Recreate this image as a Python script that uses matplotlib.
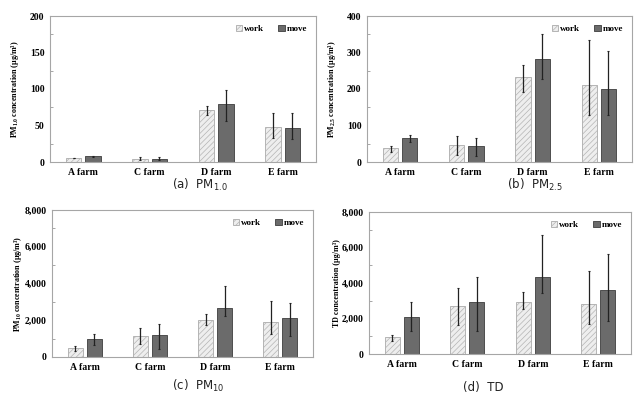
import numpy as np
import matplotlib
matplotlib.use("Agg")
import matplotlib.pyplot as plt
import matplotlib.ticker as ticker

plt.rcParams["hatch.linewidth"] = 0.5

FARMS = ["A farm", "C farm", "D farm", "E farm"]
SERIES = ["work", "move"]

# panel (a) PM1.0
pm1_work = [5.5, 4.6, 71.5, 47.8]
pm1_work_up = [0.5, 2, 5.5, 19]
pm1_work_dn = [0.5, 2, 7.5, 15]
pm1_move = [7.7, 4.6, 79, 47]
pm1_move_up = [1, 2.5, 19, 19.5]
pm1_move_dn = [1, 2.5, 22.5, 15]

# panel (b) PM2.5
pm25_work = [37, 45.5, 232, 210]
pm25_work_up = [7.5, 25.5, 34, 125]
pm25_work_dn = [9, 26.5, 39, 81]
pm25_move = [65.5, 42.7, 281, 200]
pm25_move_up = [8, 22, 71, 103]
pm25_move_dn = [11, 26, 53, 71]

# panel (c) PM10
pm10_work = [490, 1130, 2020, 1910]
pm10_work_up = [130, 430, 340, 1125]
pm10_work_dn = [145, 400, 275, 640]
pm10_move = [980, 1220, 2670, 2130]
pm10_move_up = [290, 580, 1200, 800]
pm10_move_dn = [310, 780, 450, 985]

# panel (d) TD
td_work = [953, 2729, 2916, 2823]
td_work_up = [131, 971, 560, 1831]
td_work_dn = [205, 1122, 374, 1123]
td_move = [2112, 2953, 4336, 3589]
td_move_up = [804, 1402, 2374, 2056]
td_move_dn = [822, 1663, 896, 1757]

SERIF = "Liberation Serif"
SANS = "DejaVu Sans"

fig = plt.figure(figsize=(6.43, 3.99), dpi=100)
W, H = 643, 399


def px_axes(left, right, top, bottom):
    return fig.add_axes([left / W, 1 - bottom / H, (right - left) / W, (bottom - top) / H])


def draw_panel(ax, work, wup, wdn, move, mup, mdn, ymax, ystep, ylabel, comma):
    x = np.arange(len(FARMS))
    bw = 0.23
    off = 0.145
    ax.bar(x - off, work, bw, color="#eeeeee", edgecolor="#b4b4b4", hatch="//////",
           linewidth=0.7, label="work", zorder=2)
    ax.bar(x + off, move, bw, color="#6b6b6b", edgecolor="#4d4d4d",
           linewidth=0.7, label="move", zorder=2)
    ax.errorbar(x - off, work, yerr=[wdn, wup], fmt="none", ecolor="#222222",
                elinewidth=0.9, capsize=1, capthick=0.8, zorder=3)
    ax.errorbar(x + off, move, yerr=[mdn, mup], fmt="none", ecolor="#222222",
                elinewidth=0.9, capsize=1, capthick=0.8, zorder=3)
    ax.set_xlim(-0.5, len(FARMS) - 0.5)
    ax.set_ylim(0, ymax)
    ax.set_xticks(x)
    ax.set_xticklabels(FARMS, fontfamily=SERIF, fontweight="bold", fontsize=7)
    ax.yaxis.set_major_locator(ticker.MultipleLocator(ystep))
    ax.yaxis.set_minor_locator(ticker.MultipleLocator(ystep / 2))
    if comma:
        ax.yaxis.set_major_formatter(ticker.FuncFormatter(lambda v, p: f"{int(v):,}"))
    for lab in ax.get_yticklabels():
        lab.set_fontfamily(SERIF)
        lab.set_fontweight("bold")
        lab.set_fontsize(7)
    ax.tick_params(axis="both", which="major", length=0, pad=4)
    ax.tick_params(axis="y", which="minor", direction="in", length=2.5, color="#999999")
    for s in ax.spines.values():
        s.set_color("#a6a6a6")
        s.set_linewidth(0.8)
    ax.set_ylabel(ylabel, fontfamily=SERIF, fontweight="bold", fontsize=5.8)
    ax.yaxis.set_label_coords(-0.108, 0.5)
    ax.legend(loc="upper right", ncol=2, frameon=False, handlelength=0.7, handleheight=0.7,
              handletextpad=0.2, columnspacing=1.6, borderaxespad=0.6,
              prop={"family": SERIF, "weight": "bold", "size": 6.5})


ax_a = px_axes(50, 316, 16, 162)
draw_panel(ax_a, pm1_work, pm1_work_up, pm1_work_dn, pm1_move, pm1_move_up, pm1_move_dn,
           200, 50, r"PM$\mathregular{_{1.0}}$ concentration (μg/m³)", False)

ax_b = px_axes(367, 632, 16, 162)
draw_panel(ax_b, pm25_work, pm25_work_up, pm25_work_dn, pm25_move, pm25_move_up, pm25_move_dn,
           400, 100, r"PM$\mathregular{_{2.5}}$ concentration (μg/m³)", False)

ax_c = px_axes(52, 313, 210, 357)
draw_panel(ax_c, pm10_work, pm10_work_up, pm10_work_dn, pm10_move, pm10_move_up, pm10_move_dn,
           8000, 2000, r"PM$\mathregular{_{10}}$ concentration (μg/m³)", True)

ax_d = px_axes(369, 631, 212, 354)
draw_panel(ax_d, td_work, td_work_up, td_work_dn, td_move, td_move_up, td_move_dn,
           8000, 2000, "TD concentration (μg/m³)", True)

cap_kw = dict(fontfamily=SANS, fontsize=8.5, ha="center", va="center", color="#222222")
fig.text(200 / W, 1 - 185 / H, r"(a)  PM$\mathregular{_{1.0}}$", **cap_kw)
fig.text(535 / W, 1 - 185 / H, r"(b)  PM$\mathregular{_{2.5}}$", **cap_kw)
fig.text(198 / W, 1 - 386 / H, r"(c)  PM$\mathregular{_{10}}$", **cap_kw)
fig.text(483 / W, 1 - 388 / H, "(d)  TD", **cap_kw)

fig.savefig("out.png", dpi=100)
